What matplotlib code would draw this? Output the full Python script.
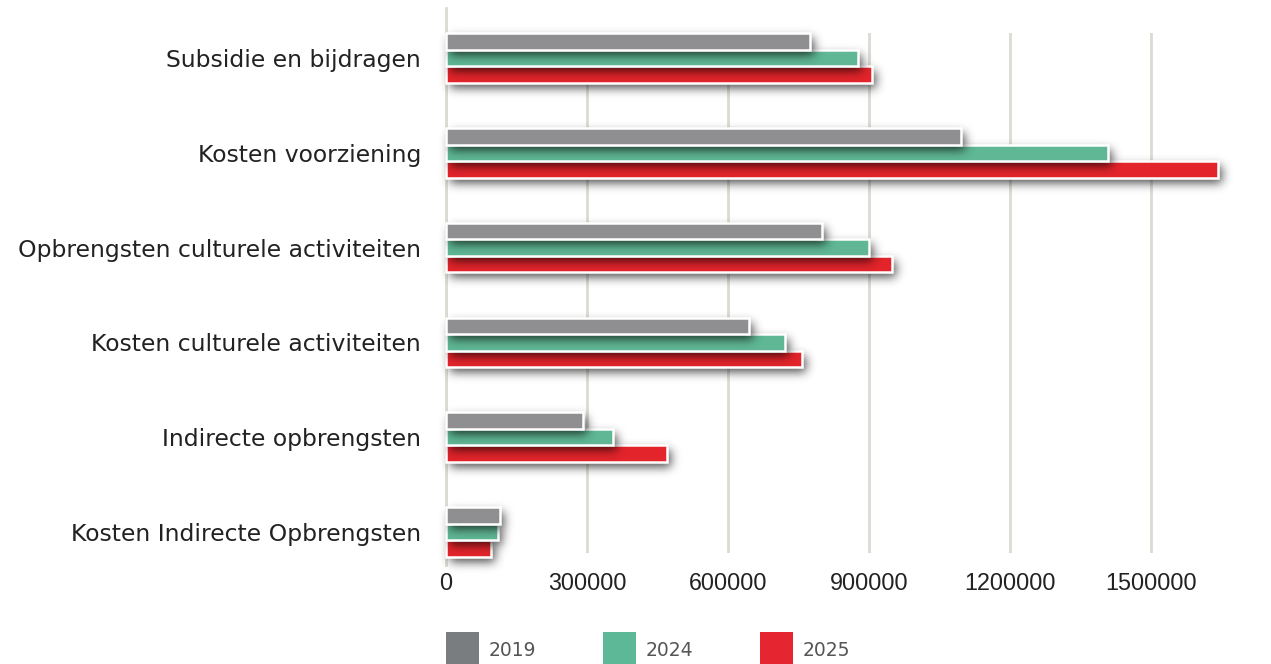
import matplotlib
matplotlib.use("Agg")
import matplotlib.pyplot as plt
from matplotlib.patches import Rectangle
import numpy as np

categories = [
    "Subsidie en bijdragen",
    "Kosten voorziening",
    "Opbrengsten culturele activiteiten",
    "Kosten culturele activiteiten",
    "Indirecte opbrengsten",
    "Kosten Indirecte Opbrengsten",
]
series_names = ["2019", "2024", "2025"]
values_2019 = [775000, 1096000, 800000, 645000, 292000, 115000]
values_2024 = [877000, 1409000, 900000, 721000, 355000, 111000]
values_2025 = [906000, 1643000, 949000, 758000, 470000, 96000]
x_ticks = [0, 300000, 600000, 900000, 1200000, 1500000]

bar_colors = ["#8f8f91", "#5fb795", "#e3242b"]
legend_colors = ["#7a7d80", "#5db897", "#e52530"]

plt.rcParams["font.family"] = ["DejaVu Sans"]

W, H = 1271, 664
fig = plt.figure(figsize=(W / 100, H / 100), dpi=100)
ax = fig.add_axes([446 / W, (H - 553) / H, (1245 - 446) / W, (553 - 33) / H])

y = np.arange(len(categories))
h = 0.175
offsets = [-h, 0, h]
ylim = (5 + 21 / 94.8, -25 / 94.8)
xlim = (0, 1700000)
ax.set_ylim(*ylim)
ax.set_xlim(*xlim)


def gaussian_blur(img, sigma):
    r = int(3 * sigma)
    k = np.exp(-0.5 * (np.arange(-r, r + 1) / sigma) ** 2)
    k /= k.sum()
    img = np.apply_along_axis(lambda v: np.convolve(v, k, mode="same"), 0, img)
    img = np.apply_along_axis(lambda v: np.convolve(v, k, mode="same"), 1, img)
    return img


def shadow_image(vals, off, dx=4, dy=5, sigma=5.0, strength=0.7):
    """Soft drop shadow of one series, on a figure-sized pixel grid."""
    mask = np.zeros((H, W))
    for yi, v in zip(y, vals):
        (x0, y0), (x1, y1) = ax.transData.transform(
            [(0, yi + off - h / 2), (v, yi + off + h / 2)])
        r0, r1 = sorted([H - y0, H - y1])
        c0, c1 = sorted([x0, x1])
        mask[int(round(r0)) + dy:int(round(r1)) + dy,
             int(round(c0)) + dx:int(round(c1)) + dx] = 1.0
    blur = gaussian_blur(mask, sigma)
    rgba = np.zeros((H, W, 4))
    rgba[..., 3] = np.clip(blur * strength, 0, 1)
    return rgba


bb = ax.get_window_extent()
fig_extent = (-bb.x0 / bb.width, (W - bb.x0) / bb.width,
              -bb.y0 / bb.height, (H - bb.y0) / bb.height)

series = [values_2019, values_2024, values_2025]
for i, (vals, off, col) in enumerate(zip(series, offsets, bar_colors)):
    z = 10 - 2 * i
    ax.barh(y + off, vals, height=h, color=col, edgecolor="white",
            linewidth=1.8, zorder=z, clip_on=False)
    ax.imshow(shadow_image(vals, off), extent=fig_extent, transform=ax.transAxes,
              aspect="auto", origin="upper", interpolation="bilinear",
              zorder=z - 1, clip_on=False)

ax.set_ylim(*ylim)
ax.set_xlim(*xlim)

ax.set_yticks(y)
ax.set_yticklabels(categories, fontsize=16.9, color="#222222")
ax.set_xticks(x_ticks)
ax.set_xticklabels([str(t) for t in x_ticks], fontsize=16.8, color="#222222",
                   family="Liberation Sans")
ax.tick_params(axis="y", length=0, pad=18)
ax.tick_params(axis="x", length=0, pad=14)

for s in ax.spines.values():
    s.set_visible(False)

ax.grid(axis="x", color="#dcdbd3", linewidth=2, zorder=0)
ax.grid(axis="y", visible=False)
ax.set_axisbelow(True)
ax.axvline(0, ymin=-0.023, ymax=1.048, color="#dcdbd3", linewidth=2,
           zorder=1, clip_on=False)

# legend along the bottom edge
lx = [446, 603, 760]
for name, col, x0 in zip(series_names, legend_colors, lx):
    fig.add_artist(Rectangle((x0 / W, 0), 33 / W, 32 / H,
                             transform=fig.transFigure, color=col, lw=0))
    fig.text((x0 + 43) / W, (H - 650) / H, name, fontsize=13.5, color="#555555",
             va="center", ha="left")

fig.savefig("out.png", dpi=100, facecolor="white")
